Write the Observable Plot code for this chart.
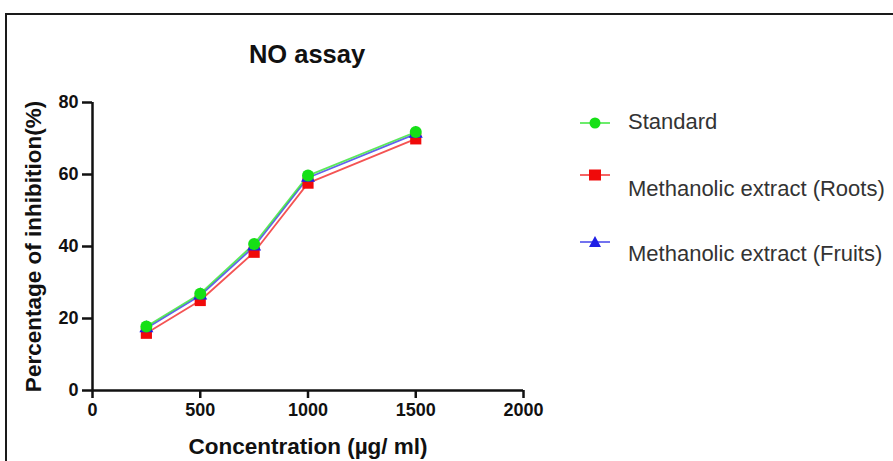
<!DOCTYPE html>
<html>
<head>
<meta charset="utf-8">
<script src="https://cdn.jsdelivr.net/npm/d3@7"></script>
<script src="https://cdn.jsdelivr.net/npm/@observablehq/plot@0.6"></script>
<style>
  html, body { margin: 0; padding: 0; background: #fff; }
  #wrap { position: relative; width: 893px; height: 461px; overflow: hidden; background: #fff; font-family: "Liberation Sans", Arial, sans-serif; }
  #frame { position: absolute; left: 5px; top: 13px; width: 1000px; height: 1000px; border: 2px solid #1a1a1a; box-sizing: border-box; pointer-events: none; }
  #title { position: absolute; left: 157px; width: 300px; top: 42px; line-height: 1; text-align: center; font-weight: bold; font-size: 25.5px; color: #111; }
  #chart { position: absolute; left: 0; top: 0; }
  .leg { position: absolute; left: 578px; top: 0; font-size: 22px; line-height: 1; color: #333; white-space: nowrap; }
  .leg svg { position: absolute; left: 0; }
  .leg span { position: absolute; left: 50px; }
</style>
</head>
<body>
<div id="wrap">
  <div id="chart"></div>
  <div id="frame"></div>
  <div id="title">NO assay</div>
  <div id="legend"></div>
</div>
<script>
const concentrations = [250, 500, 750, 1000, 1500];
const standard = [17.8, 26.9, 40.7, 59.7, 71.8];
const roots = [15.9, 25.0, 38.4, 57.6, 69.9];
const fruits = [17.3, 26.4, 40.0, 59.1, 71.3];
const seriesNames = ["Standard", "Methanolic extract (Roots)", "Methanolic extract (Fruits)"];
const xTicks = [0, 500, 1000, 1500, 2000];
const yTicks = [0, 20, 40, 60, 80];

const colors = {"Standard": "#16e016", "Methanolic extract (Roots)": "#f00a0a", "Methanolic extract (Fruits)": "#1f1fe6"};
const symbols = {"Standard": "circle", "Methanolic extract (Roots)": "square", "Methanolic extract (Fruits)": "triangle"};
const values = {"Standard": standard, "Methanolic extract (Roots)": roots, "Methanolic extract (Fruits)": fruits};

const data = [];
for (const name of seriesNames) {
  values[name].forEach((v, i) => data.push({series: name, x: concentrations[i], y: v}));
}
const drawOrder = ["Methanolic extract (Roots)", "Methanolic extract (Fruits)", "Standard"];
const radius = {"Standard": 6, "Methanolic extract (Roots)": 6.3, "Methanolic extract (Fruits)": 5.2};

const marks = [];
for (const name of drawOrder) {
  const d = data.filter(e => e.series === name);
  marks.push(Plot.line(d, {x: "x", y: "y", stroke: colors[name], strokeWidth: 1.8, strokeOpacity: 0.7}));
}
for (const name of drawOrder) {
  const d = data.filter(e => e.series === name);
  marks.push(Plot.dot(d, {x: "x", y: "y", fill: colors[name], symbol: symbols[name], r: radius[name], stroke: "none"}));
}

const plot = Plot.plot({
  width: 893,
  height: 461,
  marginLeft: 92,
  marginRight: 370,
  marginTop: 102,
  marginBottom: 71,
  style: {fontFamily: "Liberation Sans, Arial, sans-serif", fontWeight: "bold", fontSize: "18px", color: "#111", background: "transparent"},
  x: {domain: [0, 2000]},
  y: {domain: [0, 80]},
  marks: [
    Plot.axisX({ticks: xTicks, tickFormat: d => String(d), tickSize: 8, strokeWidth: 2.5, tickPadding: 5, fontSize: 18, fontWeight: "bold",
      label: "Concentration (µg/ ml)", labelAnchor: "center", labelOffset: 63, labelArrow: "none"}),
    Plot.axisY({ticks: yTicks, tickFormat: d => String(d), tickSize: 10, strokeWidth: 2.5, tickPadding: 4, fontSize: 18, fontWeight: "bold",
      label: "Percentage of inhibition(%)", labelAnchor: "center", labelOffset: 67, labelArrow: "none"}),
    Plot.ruleY([0], {strokeWidth: 2.5}),
    Plot.ruleX([0], {strokeWidth: 2.5}),
    ...marks
  ]
});
plot.querySelectorAll("g[aria-label='x-axis label'] text, g[aria-label='y-axis label'] text").forEach(t => {
  t.setAttribute("font-size", "22.5");
  t.style.fontSize = "22.5px";
});
document.getElementById("chart").appendChild(plot);

// legend: [marker center y, text baseline y]
const legendPos = {"Standard": [123, 130], "Methanolic extract (Roots)": [175, 197], "Methanolic extract (Fruits)": [242, 262]};
const legend = document.getElementById("legend");
const symbolPath = {
  "circle": '<circle cx="17" cy="10" r="5.5"/>',
  "square": '<rect x="11" y="4.5" width="12" height="11"/>',
  "triangle": '<path d="M17,4 L23,15 L11,15 Z"/>'
};
for (const name of seriesNames) {
  const [my, tb] = legendPos[name];
  const div = document.createElement("div");
  div.className = "leg";
  div.innerHTML =
    `<svg width="34" height="20" style="top:${my - 10}px" fill="${colors[name]}"><line x1="2" x2="32" y1="10" y2="10" stroke="${colors[name]}" stroke-width="1.8" stroke-opacity="0.7"/>${symbolPath[symbols[name]]}</svg>` +
    `<span style="top:${tb - 18.6}px">${name}</span>`;
  legend.appendChild(div);
}
</script>
</body>
</html>
